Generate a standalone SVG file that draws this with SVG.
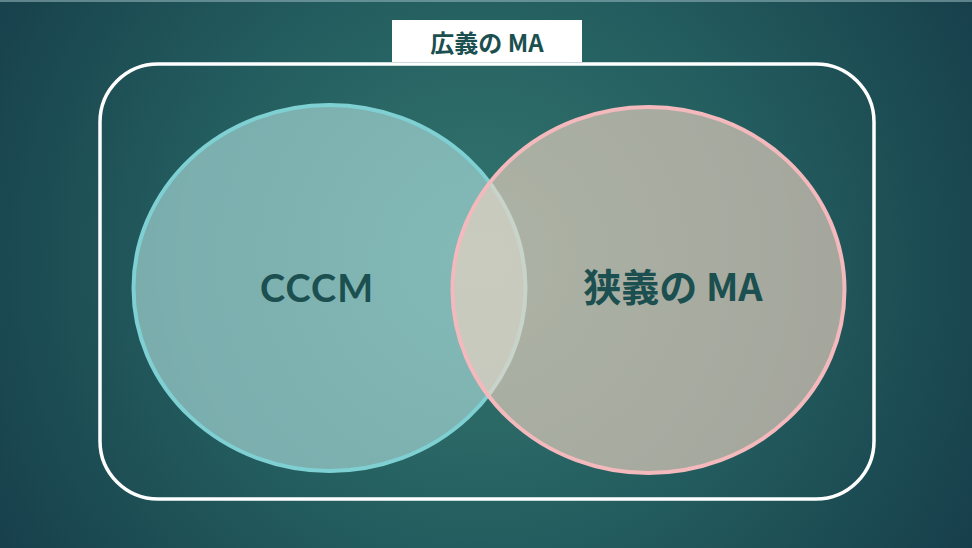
<svg xmlns="http://www.w3.org/2000/svg" width="972" height="548" viewBox="0 0 972 548">
  <defs>
    <radialGradient id="bg" cx="480" cy="260" r="600" gradientUnits="userSpaceOnUse">
      <stop offset="0" stop-color="#347770"/>
      <stop offset="0.5" stop-color="#235c5e"/>
      <stop offset="1" stop-color="#153b48"/>
    </radialGradient>
    <style>
      .set-label { font-family: "Lato", "Noto Sans CJK JP", sans-serif; font-weight: 700; fill: #1c4f50; text-anchor: middle; }
      .jp { font-family: "Noto Sans CJK JP", "Noto Sans", sans-serif; font-weight: 700; fill: #1c4f50; text-anchor: middle; }
    </style>
  </defs>

  <!-- backdrop -->
  <rect x="0" y="0" width="972" height="548" fill="url(#bg)"/>
  <rect x="0" y="0" width="972" height="2" fill="#8fb0b8" opacity="0.6"/>

  <!-- universe: broad MA -->
  <g id="universe">
    <rect x="100" y="64" width="774" height="435" rx="58" ry="58" fill="none" stroke="#ffffff" stroke-width="3.5"/>
    <rect x="392" y="20" width="190" height="42" fill="#ffffff"/>
    <text class="jp" x="487" y="52" font-size="24">広義の MA</text>
  </g>

  <!-- set: CCCM -->
  <g id="cccm">
    <ellipse cx="329.5" cy="288" rx="196" ry="183" fill="#b8e6e4" fill-opacity="0.6" stroke="#7fd0d3" stroke-width="4"/>
    <text class="set-label" x="317" y="302" font-size="38" letter-spacing="1">CCCM</text>
  </g>

  <!-- set: narrow MA -->
  <g id="narrow-ma">
    <ellipse cx="648.5" cy="290" rx="196" ry="183" fill="#f1d5c3" fill-opacity="0.64" stroke="#f4b9bc" stroke-width="4"/>
    <text class="jp" x="673" y="301" font-size="38">狭義の MA</text>
  </g>

  <g id="connectors"/>
</svg>
